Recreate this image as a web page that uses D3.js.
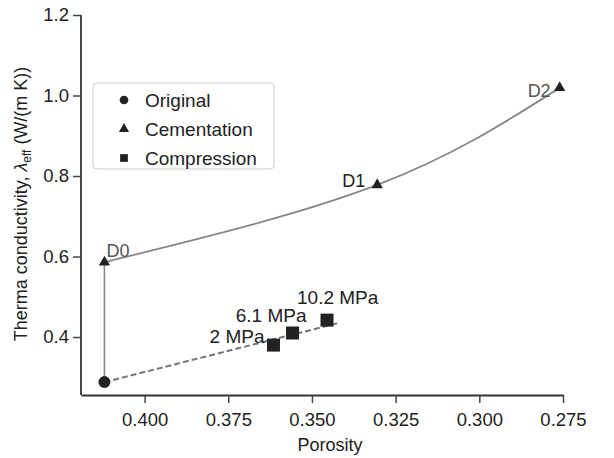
<!DOCTYPE html>
<html>
<head>
<meta charset="utf-8">
<script src="https://cdn.jsdelivr.net/npm/d3@7"></script>
<style>
  body { margin: 0; background: #fff; }
  text { font-family: "Liberation Sans", Arial, sans-serif; }
</style>
</head>
<body>
<div id="chart"></div>
<script>
// original sample
var originalPt = [0.412, 0.288]
// cementation stages
var cemNames = ["D0", "D1", "D2"]
var cemPorosity = [0.412, 0.3305, 0.276]
var cemLambda = [0.586, 0.778, 1.019]
// compression stages
var compNames = ["2 MPa", "6.1 MPa", "10.2 MPa"]
var compPorosity = [0.3615, 0.3558, 0.3455]
var compLambda = [0.380, 0.410, 0.442]
// dashed trend line for compression
var trendPorosity = [0.412, 0.342]
var trendLambda = [0.288, 0.435]

var xTicks = [0.400, 0.375, 0.350, 0.325, 0.300, 0.275]
var yTicks = [0.4, 0.6, 0.8, 1.0, 1.2]
var legendNames = ["Original", "Cementation", "Compression"]

var margin = {top: 15, right: 51, bottom: 63, left: 81},
    width = 614 - margin.left - margin.right,
    height = 458 - margin.top - margin.bottom;

var svg = d3.select("#chart").append("svg")
    .attr("width", 614)
    .attr("height", 458)
  .append("g")
    .attr("transform", "translate(" + margin.left + "," + margin.top + ")");

var x = d3.scaleLinear().domain([0.419, 0.275]).range([0, width])
var y = d3.scaleLinear().domain([0.256, 1.2]).range([height, 0])

// axes
var xAxis = svg.append("g")
    .attr("transform", "translate(0," + height + ")")
    .call(d3.axisBottom(x).tickValues(xTicks).tickFormat(d3.format(".3f"))
      .tickSize(8).tickPadding(10).tickSizeOuter(0))
var yAxis = svg.append("g")
    .call(d3.axisLeft(y).tickValues(yTicks).tickFormat(d3.format(".1f"))
      .tickSize(8).tickPadding(4).tickSizeOuter(0))

;[xAxis, yAxis].forEach(function(a){
  a.select(".domain").attr("stroke", "#333").attr("stroke-width", 1.8)
  a.selectAll(".tick line").attr("stroke", "#444").attr("stroke-width", 1.5)
  a.selectAll(".tick text").attr("fill", "#222").style("font-size", "18.5px")
    .style("font-family", "Liberation Sans, Arial, sans-serif")
})
// extend the y domain line down to the x axis
yAxis.select(".domain").attr("d", "M0," + height + "V0")

// axis titles
svg.append("text").text("Porosity")
    .attr("x", 249).attr("y", height + 56)
    .attr("text-anchor", "middle").style("font-size", "18px").attr("fill", "#222")

var ylab = svg.append("text")
    .attr("transform", "translate(" + (27 - margin.left) + "," + (204 - margin.top) + ") rotate(-90)")
    .attr("text-anchor", "middle").style("font-size", "18px").attr("fill", "#222")
ylab.append("tspan").text("Therma conductivity, ")
ylab.append("tspan").text("λ").style("font-style", "italic")
ylab.append("tspan").text("eff").attr("dy", 4).style("font-size", "12px")
ylab.append("tspan").text(" (W/(m K))").attr("dy", -4)

// vertical connector original -> D0
svg.append("line")
    .attr("x1", x(originalPt[0])).attr("y1", y(originalPt[1]))
    .attr("x2", x(cemPorosity[0])).attr("y2", y(cemLambda[0]))
    .attr("stroke", "#888").attr("stroke-width", 1.6)

// cementation curve
var cemData = cemPorosity.map(function(p, i){ return [p, cemLambda[i]] })
svg.append("path")
    .datum(cemData)
    .attr("d", d3.line().x(function(d){ return x(d[0]) }).y(function(d){ return y(d[1]) })
      .curve(d3.curveNatural))
    .attr("fill", "none").attr("stroke", "#888").attr("stroke-width", 1.8)

// compression trend
var trendData = trendPorosity.map(function(p, i){ return [p, trendLambda[i]] })
svg.append("path")
    .datum(trendData)
    .attr("d", d3.line().x(function(d){ return x(d[0]) }).y(function(d){ return y(d[1]) }))
    .attr("fill", "none").attr("stroke", "#777").attr("stroke-width", 2)
    .attr("stroke-dasharray", "6,3")

var markColor = "#222"

// original point
svg.append("circle")
    .attr("cx", x(originalPt[0])).attr("cy", y(originalPt[1])).attr("r", 6)
    .attr("fill", markColor)

// cementation triangles
svg.selectAll(".tri").data(cemData).enter().append("path")
    .attr("class", "tri")
    .attr("transform", function(d){ return "translate(" + x(d[0]) + "," + y(d[1]) + ")" })
    .attr("d", d3.symbol().type(d3.symbolTriangle).size(55))
    .attr("fill", markColor)

// compression squares
var compData = compPorosity.map(function(p, i){ return [p, compLambda[i]] })
svg.selectAll(".sq").data(compData).enter().append("rect")
    .attr("class", "sq")
    .attr("x", function(d){ return x(d[0]) - 6.5 })
    .attr("y", function(d){ return y(d[1]) - 6.5 })
    .attr("width", 13).attr("height", 13)
    .attr("fill", markColor)

// stage labels
var cemLabelPos = [
  {dx: 2, dy: -5, anchor: "start", color: "#555"},
  {dx: -12, dy: 2, anchor: "end", color: "#222"},
  {dx: -9, dy: 9, anchor: "end", color: "#555"}
]
svg.selectAll(".cemlab").data(cemNames).enter().append("text")
    .attr("class", "cemlab")
    .text(function(d){ return d })
    .attr("x", function(d, i){ return x(cemPorosity[i]) + cemLabelPos[i].dx })
    .attr("y", function(d, i){ return y(cemLambda[i]) + cemLabelPos[i].dy })
    .attr("text-anchor", function(d, i){ return cemLabelPos[i].anchor })
    .attr("fill", function(d, i){ return cemLabelPos[i].color })
    .style("font-size", "18px")

var compLabelPos = [
  {dx: -9, dy: -2, anchor: "end"},
  {dx: 14, dy: -11, anchor: "end"},
  {dx: -30, dy: -16, anchor: "start"}
]
svg.selectAll(".complab").data(compNames).enter().append("text")
    .attr("class", "complab")
    .text(function(d){ return d })
    .attr("x", function(d, i){ return x(compPorosity[i]) + compLabelPos[i].dx })
    .attr("y", function(d, i){ return y(compLambda[i]) + compLabelPos[i].dy })
    .attr("text-anchor", function(d, i){ return compLabelPos[i].anchor })
    .attr("fill", "#222")
    .style("font-size", "19px")

// legend
var legend = svg.append("g").attr("transform", "translate(" + (93 - margin.left) + "," + (83 - margin.top) + ")")
legend.append("rect")
    .attr("width", 181).attr("height", 86).attr("rx", 4)
    .attr("fill", "#fff").attr("stroke", "#ccc").attr("stroke-width", 1)

var legendSymbols = [d3.symbolCircle, d3.symbolTriangle, d3.symbolSquare]
var legItems = legend.selectAll(".leg").data(legendNames).enter().append("g")
    .attr("class", "leg")
    .attr("transform", function(d, i){ return "translate(31," + (17 + i * 29) + ")" })
legItems.append("path")
    .attr("d", function(d, i){ return d3.symbol().type(legendSymbols[i]).size(i == 1 ? 45 : 60)() })
    .attr("fill", markColor)
legItems.append("text")
    .text(function(d){ return d })
    .attr("x", 21).attr("dy", "0.35em")
    .attr("fill", "#222")
    .style("font-size", "19px")
</script>
</body>
</html>
